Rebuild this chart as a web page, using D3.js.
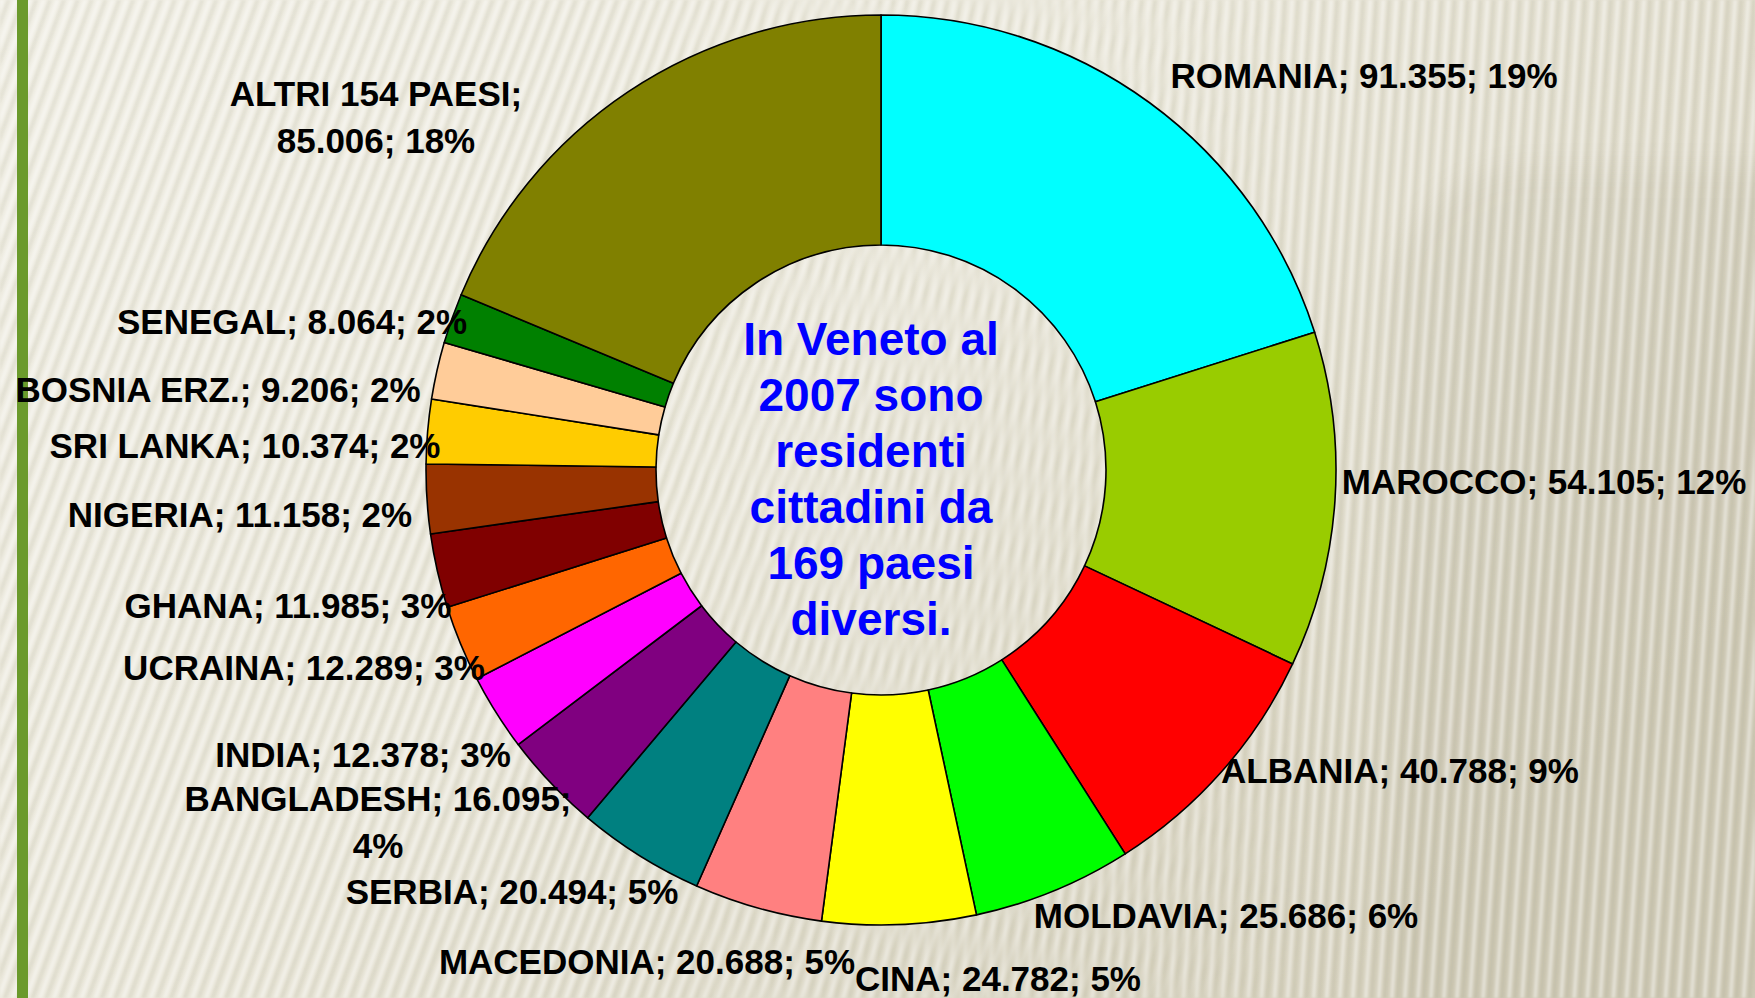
<!DOCTYPE html>
<html>
<head>
<meta charset="utf-8">
<script src="https://cdn.jsdelivr.net/npm/d3@7"></script>
<style>
  html, body { margin: 0; padding: 0; background: #EEECE1; }
  svg { display: block; }
  text { font-family: "Liberation Sans", Arial, sans-serif; font-weight: bold; }
</style>
</head>
<body>
<svg id="chart" width="1755" height="998"></svg>
<script>
// ---------------- DATA ----------------
const countries = ["ROMANIA", "MAROCCO", "ALBANIA", "MOLDAVIA", "CINA", "MACEDONIA", "SERBIA",
  "BANGLADESH", "INDIA", "UCRAINA", "GHANA", "NIGERIA", "SRI LANKA", "BOSNIA ERZ.", "SENEGAL", "ALTRI 154 PAESI"];
const residents = [91355, 54105, 40788, 25686, 24782, 20688, 20494,
  16095, 12378, 12289, 11985, 11158, 10374, 9206, 8064, 85006];
const percentLabels = [19, 12, 9, 6, 5, 5, 5, 4, 3, 3, 3, 2, 2, 2, 2, 18];
const sliceColors = ["#00FFFF", "#99CC00", "#FF0000", "#00FF00", "#FFFF00", "#FF8080", "#008080",
  "#800080", "#FF00FF", "#FF6600", "#800000", "#993300", "#FFCC00", "#FFCC99", "#008000", "#808000"];
const centerLines = ["In Veneto al", "2007 sono", "residenti", "cittadini da", "169 paesi", "diversi."];

// ---------------- LAYOUT ----------------
const W = 1755, H = 998;
const cx = 881, cy = 470, rOuter = 455, rInner = 225;
// label anchor (center x, baseline y, parts on first line)
const labelLayout = [
  [1364, 88, 3], [1544, 494, 3], [1400, 783, 3], [1226, 928, 3], [998, 991, 3],
  [647, 974, 3], [512, 904, 3], [378, 811, 2], [363, 767, 3], [304, 680, 3],
  [288, 618, 3], [240, 527, 3], [245, 458, 3], [218, 402, 3], [292, 334, 3], [376, 106, 1]
];
const labelLineHeight = 47;

const svg = d3.select("#chart");
const defs = svg.append("defs");

// background gradient
const bg = defs.append("linearGradient").attr("id", "bgGrad")
  .attr("x1", "0").attr("y1", "0").attr("x2", "1").attr("y2", "0.6");
bg.append("stop").attr("offset", "0").attr("stop-color", "#F0EEE4");
bg.append("stop").attr("offset", "0.5").attr("stop-color", "#EAE7DA");
bg.append("stop").attr("offset", "1").attr("stop-color", "#D6D1BE");

function stripePattern(id, angle) {
  const p = defs.append("pattern").attr("id", id)
    .attr("width", 13).attr("height", 13)
    .attr("patternUnits", "userSpaceOnUse")
    .attr("patternTransform", `rotate(${angle})`);
  p.append("rect").attr("x", 0).attr("width", 4).attr("height", 13).attr("fill", "#FFFFFF").attr("opacity", 0.4);
  p.append("rect").attr("x", 6).attr("width", 4).attr("height", 13).attr("fill", "#8A8668").attr("opacity", 0.11);
}
stripePattern("stripesA", 20);
stripePattern("stripesB", 4);

const mg = defs.append("linearGradient").attr("id", "maskGrad").attr("x1", "0").attr("x2", "1").attr("y1", "0").attr("y2", "0");
mg.append("stop").attr("offset", "0.35").attr("stop-color", "#fff");
mg.append("stop").attr("offset", "0.75").attr("stop-color", "#000");
const mg2 = defs.append("linearGradient").attr("id", "maskGrad2").attr("x1", "0").attr("x2", "1").attr("y1", "0").attr("y2", "0");
mg2.append("stop").attr("offset", "0.35").attr("stop-color", "#000");
mg2.append("stop").attr("offset", "0.75").attr("stop-color", "#fff");
defs.append("mask").attr("id", "maskA").append("rect").attr("width", W).attr("height", H).attr("fill", "url(#maskGrad)");
defs.append("mask").attr("id", "maskB").append("rect").attr("width", W).attr("height", H).attr("fill", "url(#maskGrad2)");

defs.append("filter").attr("id", "blur").append("feGaussianBlur").attr("stdDeviation", 14);
defs.append("filter").attr("id", "soft").append("feGaussianBlur").attr("stdDeviation", 1.2);

svg.append("rect").attr("width", W).attr("height", H).attr("fill", "url(#bgGrad)");
svg.append("rect").attr("x", 1390).attr("y", 165).attr("width", 600).attr("height", 1000).attr("rx", 140)
  .attr("fill", "#6E6848").attr("opacity", 0.07).attr("filter", "url(#blur)");
const stripes = svg.append("g").attr("filter", "url(#soft)");
stripes.append("rect").attr("width", W).attr("height", H).attr("fill", "url(#stripesA)").attr("mask", "url(#maskA)");
stripes.append("rect").attr("width", W).attr("height", H).attr("fill", "url(#stripesB)").attr("mask", "url(#maskB)");

// left green bar
svg.append("rect").attr("x", 17).attr("y", 0).attr("width", 11).attr("height", H).attr("fill", "#6B9A2C");

// ---------------- DONUT ----------------
const data = countries.map((c, i) => ({ name: c, value: residents[i], pct: percentLabels[i], color: sliceColors[i], layout: labelLayout[i] }));
const pie = d3.pie().value(d => d.value).sort(null).startAngle(0).endAngle(2 * Math.PI);
const arc = d3.arc().innerRadius(rInner).outerRadius(rOuter);

const g = svg.append("g").attr("transform", `translate(${cx},${cy})`);
g.selectAll("path.slice").data(pie(data)).join("path")
  .attr("class", "slice")
  .attr("d", arc)
  .attr("fill", d => d.data.color)
  .attr("stroke", "#000")
  .attr("stroke-width", 1.6)
  .attr("stroke-linejoin", "round");

// ---------------- LABELS ----------------
const itLocale = d3.formatLocale({ decimal: ",", thousands: ".", grouping: [3], currency: ["€", ""] });
const fmt = itLocale.format(",d");

const labels = svg.append("g").attr("class", "labels");
data.forEach(d => {
  const parts = [d.name, fmt(d.value), d.pct + "%"];
  const [lx, ly, brk] = d.layout;
  const lines = brk >= 3 ? [parts.join("; ")]
    : [parts.slice(0, brk).join("; ") + ";", parts.slice(brk).join("; ")];
  const t = labels.append("text")
    .attr("x", lx).attr("y", ly)
    .attr("text-anchor", "middle")
    .attr("font-size", 35)
    .attr("fill", "#000");
  lines.forEach((ln, i) => {
    t.append("tspan").attr("x", lx).attr("y", ly + i * labelLineHeight).text(ln);
  });
});

// ---------------- CENTER TEXT ----------------
const ct = svg.append("text")
  .attr("text-anchor", "middle")
  .attr("font-size", 46)
  .attr("fill", "#0000FF");
centerLines.forEach((ln, i) => {
  ct.append("tspan").attr("x", 871).attr("y", 355 + i * 56).text(ln);
});
</script>
</body>
</html>
